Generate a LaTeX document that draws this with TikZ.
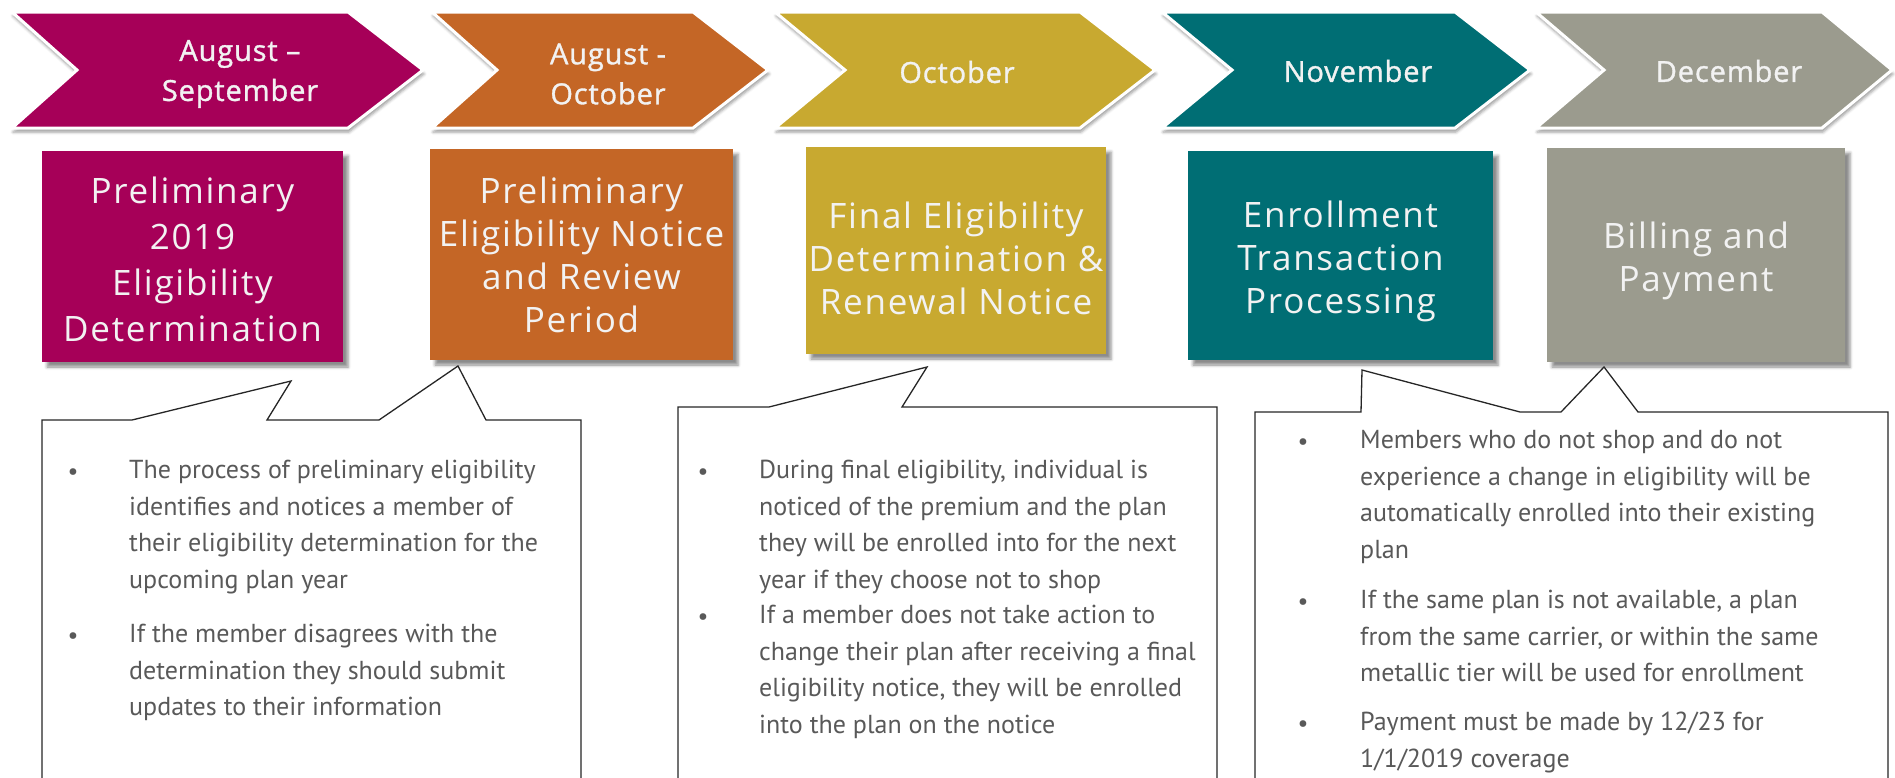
\documentclass[tikz,border=0pt]{standalone}
\usepackage{fontspec}
\setmainfont{PT Sans}
\newfontfamily\headfont[LetterSpace=5]{Open Sans}
\newfontfamily\monthfont[LetterSpace=3,FakeBold=1.2]{Open Sans}
\usetikzlibrary{shadows.blur}

\definecolor{plum}{RGB}{166,0,88}
\definecolor{rust}{RGB}{196,102,38}
\definecolor{mustard}{RGB}{200,169,48}
\definecolor{petrol}{RGB}{0,110,116}
\definecolor{stone}{RGB}{155,155,142}
\definecolor{paper}{RGB}{242,242,242}
\definecolor{ink}{RGB}{89,89,89}

\begin{document}
\begin{tikzpicture}[x=1pt, y=-1pt,
	chevron/.style={fill=#1, draw=white, line width=3pt, line join=miter,
		blur shadow={shadow xshift=1pt, shadow yshift=-4pt, shadow blur radius=3pt, shadow opacity=40}},
	month/.style={text=paper, align=center, inner sep=0pt, font=\monthfont\fontsize{29}{40}\selectfont},
	phase/.style={fill=#1, text=paper, align=center, inner sep=0pt,
		font=\headfont\fontsize{35}{43}\selectfont,
		blur shadow={shadow xshift=5pt, shadow yshift=-5pt, shadow blur radius=3pt, shadow opacity=45}},
	notebox/.style={draw=black!85, line width=1.3pt, fill=white, line join=miter},
	note/.style={text=ink, align=left, anchor=north west, inner sep=0pt, font=\fontsize{26}{36.6}\selectfont},
	bulletdot/.style={text=ink, inner sep=0pt, font=\fontsize{24}{24}\selectfont}]
	\useasboundingbox (0,0) rectangle (1895,777);
	\clip (0,0) rectangle (1895,777);
	% months
	\draw[chevron=plum]    (12,12)   -- (348,12)  -- (423,70)  -- (348,128)  -- (12,128)   -- (77,70)   -- cycle;
	\draw[chevron=rust]    (432,12)  -- (693,12)  -- (768,70)  -- (693,128)  -- (432,128)  -- (497,70)  -- cycle;
	\draw[chevron=mustard] (775,12)  -- (1080,12) -- (1155,70) -- (1080,128) -- (775,128)  -- (845,70)  -- cycle;
	\draw[chevron=petrol]  (1162,12) -- (1455,12) -- (1530,70) -- (1455,128) -- (1162,128) -- (1232,70) -- cycle;
	\draw[chevron=stone]   (1536,12) -- (1822,12) -- (1892,70) -- (1822,128) -- (1536,128) -- (1604,70) -- cycle;
	\node[month] (m1) at (240,74)  {August –\\September};
	\node[month] (m2) at (608,74)  {August -\\October};
	\node[month] (m3) at (957,72)  {October};
	\node[month] (m4) at (1358,71) {November};
	\node[month] (m5) at (1729,71) {December};
	% phases (the rules push the text down a little)
	\node[phase=plum, minimum width=301pt, minimum height=211pt, font=\headfont\fontsize{35}{46}\selectfont] (p1) at (192.5,256.5)
		{\rule{0pt}{32pt}Preliminary\\2019\\Eligibility\\Determination};
	\node[phase=rust, minimum width=303pt, minimum height=211pt] (p2) at (581.5,254.5)
		{\rule{0pt}{28pt}Preliminary\\Eligibility Notice\\and Review\\Period};
	\node[phase=mustard, minimum width=300pt, minimum height=207pt] (p3) at (956,250.5)
		{\rule{0pt}{42pt}Final Eligibility\\Determination \&\\Renewal Notice};
	\node[phase=petrol, minimum width=305pt, minimum height=209pt] (p4) at (1340.5,255.5)
		{\rule{0pt}{39pt}Enrollment\\Transaction\\Processing};
	\node[phase=stone, minimum width=298pt, minimum height=214pt] (p5) at (1696,255)
		{\rule{0pt}{39pt}Billing and\\Payment};
	% callouts
	\draw[notebox] (42,420) -- (132,420) -- (291,381) -- (267,420) -- (379,420) -- (458,366) -- (486,420)
		-- (581,420) -- (581,800) -- (42,800) -- cycle;
	\draw[notebox] (678,407) -- (769,407) -- (927,367) -- (902,407) -- (1217,407) -- (1217,800) -- (678,800) -- cycle;
	\draw[notebox] (1255,412) -- (1361,412) -- (1362,370) -- (1520,412) -- (1561,412) -- (1604,367) -- (1638,412)
		-- (1888,412) -- (1888,800) -- (1255,800) -- cycle;
	% first callout
	\node[bulletdot] (d1a) at (73,474) {•};
	\node[note] (n1a) at (129,460) {The process of preliminary eligibility\\identifies and notices a member of\\their eligibility determination for the\\upcoming plan year};
	\node[bulletdot] (d1b) at (73,638) {•};
	\node[note] (n1b) at (129,624) {If the member disagrees with the\\determination they should submit\\updates to their information};
	% second callout
	\node[bulletdot] (d2a) at (703,474) {•};
	\node[note] (n2a) at (759,460) {During final eligibility, individual is\\noticed of the premium and the plan\\they will be enrolled into for the next\\year if they choose not to shop};
	\node[bulletdot] (d2b) at (703,619) {•};
	\node[note] (n2b) at (759,605) {If a member does not take action to\\change their plan after receiving a final\\eligibility notice, they will be enrolled\\into the plan on the notice};
	% third callout
	\node[bulletdot] (d3a) at (1303,444) {•};
	\node[note] (n3a) at (1360,430) {Members who do not shop and do not\\experience a change in eligibility will be\\automatically enrolled into their existing\\plan};
	\node[bulletdot] (d3b) at (1303,604) {•};
	\node[note] (n3b) at (1360,590) {If the same plan is not available, a plan\\from the same carrier, or within the same\\metallic tier will be used for enrollment};
	\node[bulletdot] (d3c) at (1303,726) {•};
	\node[note] (n3c) at (1360,712) {Payment must be made by 12/23 for\\1/1/2019 coverage};
\end{tikzpicture}
\end{document}
